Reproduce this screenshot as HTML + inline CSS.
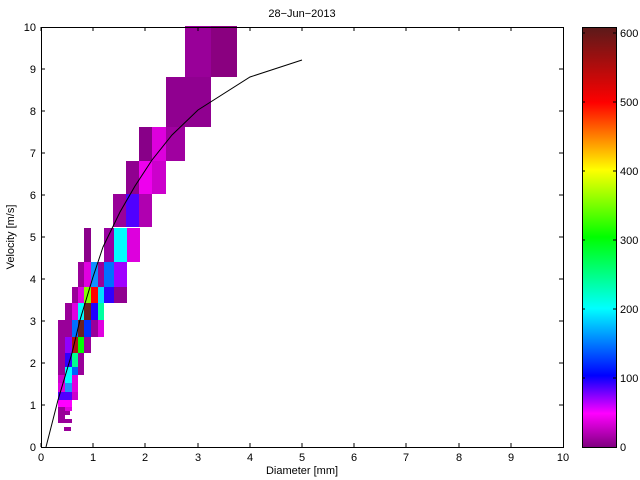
<!DOCTYPE html>
<html><head><style>body{margin:0;background:#fff}svg{display:block}text{font-family:"Liberation Sans",sans-serif;font-size:11px;fill:#000}</style></head><body>
<svg width="640" height="480" xmlns="http://www.w3.org/2000/svg">
<defs><linearGradient id="cb" x1="0" y1="1" x2="0" y2="0">
<stop offset="0" stop-color="#800080"/><stop offset="0.08" stop-color="#ff00ff"/><stop offset="0.17" stop-color="#0000ff"/><stop offset="0.33" stop-color="#00ffff"/><stop offset="0.5" stop-color="#00ff00"/><stop offset="0.66" stop-color="#ffff00"/><stop offset="0.82" stop-color="#ff0000"/><stop offset="1" stop-color="#5a1a1a"/></linearGradient></defs>
<g stroke="none">
<rect x="185" y="26" width="26" height="51" fill="#990099"/><rect x="211" y="26" width="26" height="51" fill="#8a0080"/>
<rect x="166" y="77" width="45" height="50" fill="#900090"/>
<rect x="139" y="127" width="13" height="34" fill="#880088"/><rect x="152" y="127" width="14" height="34" fill="#dd00dd"/><rect x="166" y="127" width="19" height="34" fill="#a000a0"/>
<rect x="126" y="161" width="13" height="33" fill="#900090"/><rect x="139" y="161" width="13" height="33" fill="#ee00ee"/><rect x="152" y="161" width="14" height="33" fill="#cc00cc"/>
<rect x="113" y="194" width="13" height="33" fill="#990099"/><rect x="126" y="194" width="13" height="33" fill="#5000ff"/><rect x="139" y="194" width="13" height="33" fill="#b000b0"/>
<rect x="84" y="228" width="7" height="34" fill="#8a008a"/><rect x="104" y="228" width="10" height="34" fill="#9900a0"/><rect x="114" y="228" width="13" height="34" fill="#00ffff"/><rect x="127" y="228" width="13" height="34" fill="#dd00dd"/>
<rect x="78" y="262" width="6" height="25" fill="#990099"/><rect x="84" y="262" width="7" height="25" fill="#e000e0"/><rect x="91" y="262" width="7" height="25" fill="#1090ff"/><rect x="98" y="262" width="6" height="25" fill="#990099"/><rect x="104" y="262" width="10" height="25" fill="#0070ff"/><rect x="114" y="262" width="13" height="25" fill="#a000ff"/>
<rect x="72" y="287" width="6" height="16" fill="#990099"/><rect x="78" y="287" width="6" height="16" fill="#e000e0"/><rect x="84" y="287" width="7" height="16" fill="#80ff00"/><rect x="91" y="287" width="7" height="16" fill="#ff0000"/><rect x="98" y="287" width="6" height="16" fill="#00e0ff"/><rect x="104" y="287" width="10" height="16" fill="#3000ff"/><rect x="114" y="287" width="13" height="16" fill="#900090"/>
<rect x="65" y="303" width="7" height="17" fill="#990099"/><rect x="72" y="303" width="6" height="17" fill="#e000e0"/><rect x="78" y="303" width="6" height="17" fill="#00ffff"/><rect x="84" y="303" width="7" height="17" fill="#6a2020"/><rect x="91" y="303" width="7" height="17" fill="#2000ff"/><rect x="98" y="303" width="6" height="17" fill="#00ffa0"/>
<rect x="58" y="320" width="14" height="17" fill="#990099"/><rect x="72" y="320" width="6" height="17" fill="#0070ff"/><rect x="78" y="320" width="6" height="17" fill="#6a2020"/><rect x="84" y="320" width="7" height="17" fill="#0030ff"/><rect x="91" y="320" width="7" height="17" fill="#990099"/><rect x="98" y="320" width="6" height="17" fill="#e000e0"/>
<rect x="58" y="337" width="7" height="16" fill="#990099"/><rect x="65" y="337" width="7" height="16" fill="#9000ff"/><rect x="72" y="337" width="6" height="16" fill="#b01010"/><rect x="78" y="337" width="6" height="16" fill="#00ff00"/><rect x="84" y="337" width="7" height="16" fill="#990099"/>
<rect x="58" y="353" width="7" height="14" fill="#990099"/><rect x="65" y="353" width="7" height="14" fill="#3000ff"/><rect x="72" y="353" width="6" height="14" fill="#00ff90"/><rect x="78" y="353" width="6" height="14" fill="#990099"/>
<rect x="58" y="367" width="7" height="8" fill="#990099"/><rect x="65" y="367" width="7" height="8" fill="#00ffff"/><rect x="72" y="367" width="6" height="8" fill="#0060ff"/><rect x="78" y="367" width="6" height="8" fill="#990099"/>
<rect x="58" y="375" width="7" height="8" fill="#cc00cc"/><rect x="65" y="375" width="7" height="8" fill="#00ffff"/><rect x="72" y="375" width="6" height="8" fill="#e000e0"/>
<rect x="58" y="383" width="7" height="9" fill="#e000e0"/><rect x="65" y="383" width="7" height="9" fill="#2090ff"/><rect x="72" y="383" width="6" height="9" fill="#e000e0"/>
<rect x="58" y="392" width="14" height="8" fill="#5000ff"/><rect x="72" y="392" width="6" height="8" fill="#cc00cc"/>
<rect x="58" y="400" width="14" height="7" fill="#ff00ff"/>
<rect x="58" y="407" width="7" height="4" fill="#990099"/><rect x="65" y="407" width="7" height="4" fill="#e000e0"/>
<rect x="58" y="411" width="12" height="4" fill="#990099"/><rect x="58" y="415" width="7" height="4" fill="#990099"/><rect x="58" y="419" width="14" height="4" fill="#990099"/><rect x="64" y="427" width="7" height="4" fill="#990099"/>
</g>
<polyline fill="none" stroke="#000" stroke-width="1" points="46,447 58,400 72,353 80,320 93,277 103,247 120,212 135,186 152,160 172,135 198,110 250,77 302,60"/>
<rect x="41.5" y="27.5" width="522" height="420" fill="none" stroke="#000"/>
<g stroke="#000">
<path d="M41 447v-4M93 447v-4M145 447v-4M198 447v-4M250 447v-4M302 447v-4M354 447v-4M406 447v-4M459 447v-4M511 447v-4M41 27v4M93 27v4M145 27v4M198 27v4M250 27v4M302 27v4M354 27v4M406 27v4M459 27v4M511 27v4"/>
<path d="M41 405h4M41 363h4M41 321h4M41 279h4M41 237h4M41 195h4M41 153h4M41 111h4M41 69h4M563 405h-4M563 363h-4M563 321h-4M563 279h-4M563 237h-4M563 195h-4M563 153h-4M563 111h-4M563 69h-4"/>
</g>
<g text-anchor="middle">
<text x="41" y="461">0</text><text x="93" y="461">1</text><text x="145" y="461">2</text><text x="198" y="461">3</text><text x="250" y="461">4</text><text x="302" y="461">5</text><text x="354" y="461">6</text><text x="406" y="461">7</text><text x="459" y="461">8</text><text x="511" y="461">9</text><text x="563" y="461">10</text>
<text x="302" y="474">Diameter [mm]</text><text x="302" y="17">28−Jun−2013</text>
</g>
<g text-anchor="end">
<text x="36" y="451">0</text><text x="36" y="409">1</text><text x="36" y="367">2</text><text x="36" y="325">3</text><text x="36" y="283">4</text><text x="36" y="241">5</text><text x="36" y="199">6</text><text x="36" y="157">7</text><text x="36" y="115">8</text><text x="36" y="73">9</text><text x="36" y="31">10</text>
</g>
<text transform="translate(14,237) rotate(-90)" text-anchor="middle">Velocity [m/s]</text>
<rect x="582" y="27" width="34" height="420" fill="url(#cb)"/>
<rect x="582.5" y="27.5" width="34" height="420" fill="none" stroke="#000"/>
<g stroke="#000"><path d="M582 378h3M582 309h3M582 240h3M582 171h3M582 102h3M582 33h3M616 378h-3M616 309h-3M616 240h-3M616 171h-3M616 102h-3M616 33h-3"/></g>
<g><text x="620" y="451">0</text><text x="620" y="382">100</text><text x="620" y="313">200</text><text x="620" y="244">300</text><text x="620" y="175">400</text><text x="620" y="106">500</text><text x="620" y="37">600</text></g>
</svg>
</body></html>
